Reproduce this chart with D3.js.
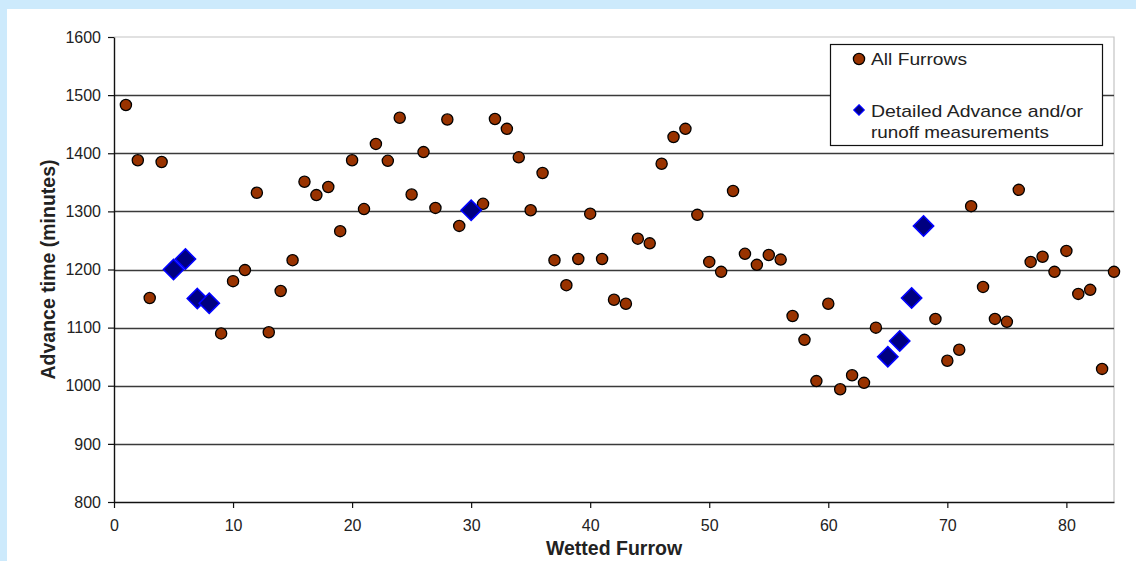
<!DOCTYPE html>
<html>
<head>
<meta charset="utf-8">
<script src="https://cdn.jsdelivr.net/npm/d3@7"></script>
<style>
  html, body { margin: 0; padding: 0; background: #cdeafc; }
  svg { display: block; }
  text { font-family: "Liberation Sans", Arial, sans-serif; }
</style>
</head>
<body>
<svg id="chart" width="1136" height="561"></svg>
<script>
// ---- data ----
const furrows = d3.range(1, 85);
const advanceAll = [
  1483, 1388, 1151, 1385, 1200, 1218, 1150, 1142, 1090, 1180,
  1199, 1332, 1092, 1163, 1216, 1351, 1328, 1342, 1266, 1388,
  1304, 1416, 1387, 1461, 1329, 1402, 1306, 1458, 1275, 1302,
  1313, 1459, 1442, 1393, 1302, 1366, 1216, 1173, 1218, 1296,
  1218, 1148, 1141, 1253, 1245, 1382, 1428, 1442, 1294, 1213,
  1196, 1335, 1227, 1208, 1225, 1217, 1120, 1079, 1008, 1141,
  994, 1018, 1005, 1100, 1050, 1077, 1151, 1275, 1115, 1043,
  1062, 1309, 1170, 1115, 1110, 1337, 1213, 1222, 1196, 1232,
  1158, 1165, 1029, 1196
];
const detailedFurrows = [5, 6, 7, 8, 30, 65, 66, 67, 68];
const detailedAdvance = [1200, 1218, 1150, 1142, 1302, 1050, 1077, 1151, 1275];
const xTicks = [0, 10, 20, 30, 40, 50, 60, 70, 80];
const yTicks = [800, 900, 1000, 1100, 1200, 1300, 1400, 1500, 1600];
const seriesNames = ["All Furrows", "Detailed Advance and/or", "runoff measurements"];

// ---- layout ----
const svg = d3.select("#chart");
const W = 1136, H = 561;
const plot = { left: 114, right: 1114, top: 37, bottom: 502 };

svg.append("rect").attr("x", 7).attr("y", 9).attr("width", W - 7).attr("height", H - 9).attr("fill", "#ffffff");

const x = d3.scaleLinear().domain([0, 84]).range([plot.left, plot.right]);
const y = d3.scaleLinear().domain([800, 1600]).range([plot.bottom, plot.top]);

// plot border (light gray top/right)
svg.append("path")
  .attr("d", `M${plot.left},${y(1600)}H${plot.right}V${plot.bottom}`)
  .attr("fill", "none").attr("stroke", "#c4c4c4").attr("stroke-width", 1.2);

// gridlines
svg.append("g").selectAll("line")
  .data(yTicks.filter(v => v > 800 && v < 1600))
  .join("line")
  .attr("x1", plot.left).attr("x2", plot.right)
  .attr("y1", d => Math.round(y(d)) + 0.5).attr("y2", d => Math.round(y(d)) + 0.5)
  .attr("stroke", "#3a3a3a").attr("stroke-width", 1.3);

// y axis
const yAxis = svg.append("g")
  .attr("transform", `translate(${plot.left},0)`)
  .call(d3.axisLeft(y).tickValues(yTicks).tickFormat(d3.format("d")).tickSize(6).tickSizeOuter(0).tickPadding(7));
yAxis.select(".domain").attr("stroke", "#111").attr("stroke-width", 1.4);
yAxis.selectAll(".tick line").attr("stroke", "#111").attr("stroke-width", 1.2);
yAxis.selectAll(".tick text").attr("font-size", 16).attr("fill", "#222")
  .attr("font-family", "Liberation Sans, Arial, sans-serif");

// x axis
const xAxis = svg.append("g")
  .attr("transform", `translate(0,${plot.bottom})`)
  .call(d3.axisBottom(x).tickValues(xTicks).tickFormat(d3.format("d")).tickSize(6).tickSizeOuter(0).tickPadding(12));
xAxis.select(".domain").attr("stroke", "#111").attr("stroke-width", 1.4);
xAxis.selectAll(".tick line").attr("stroke", "#111").attr("stroke-width", 1.2);
xAxis.selectAll(".tick text").attr("font-size", 16).attr("fill", "#222")
  .attr("font-family", "Liberation Sans, Arial, sans-serif");

// axis titles
svg.append("text")
  .attr("x", (plot.left + plot.right) / 2).attr("y", 555)
  .attr("text-anchor", "middle").attr("font-size", 19.5).attr("font-weight", "bold").attr("fill", "#222")
  .text("Wetted Furrow");
svg.append("text")
  .attr("transform", `translate(55,${(plot.top + plot.bottom) / 2}) rotate(-90)`)
  .attr("text-anchor", "middle").attr("font-size", 19.5).attr("font-weight", "bold").attr("fill", "#222")
  .text("Advance time (minutes)");

// series: all furrows (circles)
const allData = furrows.map((f, i) => ({ f, v: advanceAll[i] }));
svg.append("g").selectAll("circle")
  .data(allData)
  .join("circle")
  .attr("cx", d => x(d.f)).attr("cy", d => y(d.v)).attr("r", 5.6)
  .attr("fill", "#993300").attr("stroke", "#000").attr("stroke-width", 1.3);

// series: detailed (diamonds)
const detData = detailedFurrows.map((f, i) => ({ f, v: detailedAdvance[i] }));
const diamond = d3.symbol().type(d3.symbolDiamond2).size(260);
svg.append("g").selectAll("path")
  .data(detData)
  .join("path")
  .attr("transform", d => `translate(${x(d.f)},${y(d.v)})`)
  .attr("d", diamond)
  .attr("fill", "#000080").attr("stroke", "#0000ff").attr("stroke-width", 1.6);

// legend
const lg = svg.append("g");
lg.append("rect").attr("x", 830.5).attr("y", 44.5).attr("width", 272).attr("height", 101)
  .attr("fill", "#fff").attr("stroke", "#111").attr("stroke-width", 1.2);
lg.append("circle").attr("cx", 859).attr("cy", 59).attr("r", 5.6)
  .attr("fill", "#993300").attr("stroke", "#000").attr("stroke-width", 1.3);
lg.append("path").attr("transform", "translate(859,110)")
  .attr("d", d3.symbol().type(d3.symbolDiamond2).size(70))
  .attr("fill", "#000080").attr("stroke", "#0000ff").attr("stroke-width", 1.2);
const legendText = [
  { t: seriesNames[0], x: 871, y: 65, w: 96 },
  { t: seriesNames[1], x: 871, y: 117, w: 212 },
  { t: seriesNames[2], x: 871, y: 138, w: 178 }
];
lg.selectAll("text.lt")
  .data(legendText)
  .join("text")
  .attr("class", "lt")
  .attr("x", d => d.x).attr("y", d => d.y)
  .attr("font-size", 17).attr("fill", "#222")
  .attr("textLength", d => d.w).attr("lengthAdjust", "spacingAndGlyphs")
  .text(d => d.t);
</script>
</body>
</html>
